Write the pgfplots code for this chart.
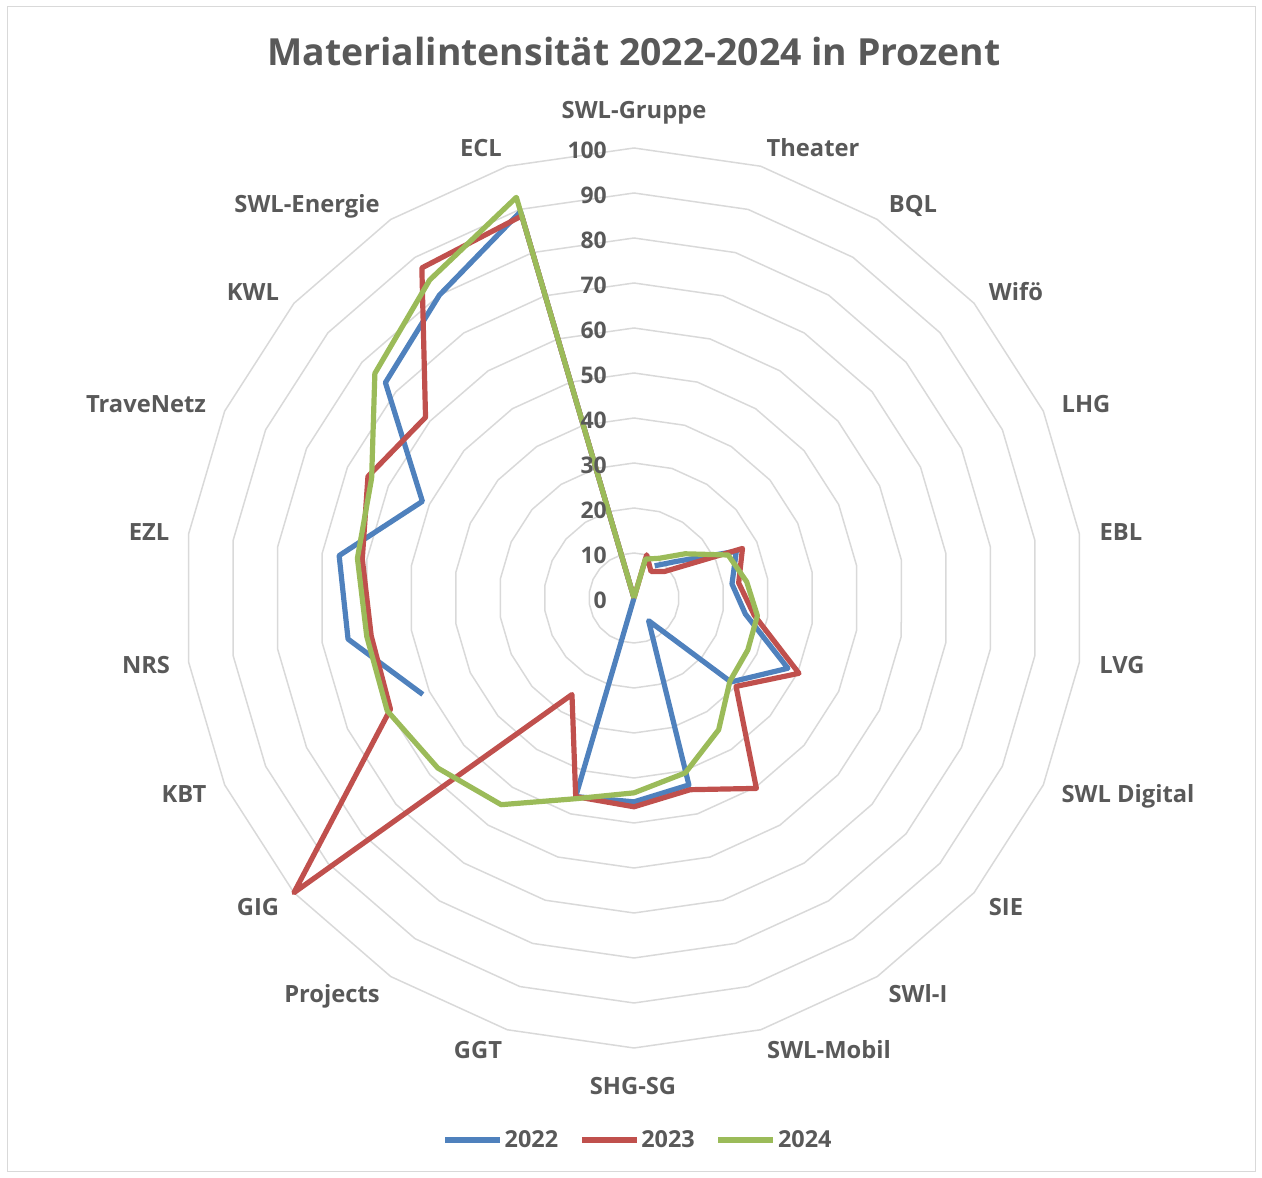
\documentclass[border=0pt]{standalone}
\usepackage{pgfplots}
\pgfplotsset{compat=1.18}
\usepackage{pgfplotstable}
\usepackage{fontspec}
\setmainfont{Open Sans}
\definecolor{c22}{HTML}{4F81BD}
\definecolor{c23}{HTML}{C0504D}
\definecolor{c24}{HTML}{9BBB59}
\definecolor{txt}{HTML}{595959}
\definecolor{gridc}{HTML}{D9D9D9}
\tikzset{
  radar/.style={line width=5.2bp, line join=round},
  lab/.style={font=\fontsize{23.8}{28}\selectfont\bfseries, text=txt, anchor=base, yshift=-8.4bp, inner sep=0pt},
  num/.style={font=\fontsize{23}{27}\selectfont\bfseries, text=txt, anchor=base east, yshift=-8.2bp, inner sep=0pt},
}

% i = category index (0 = SWL-Gruppe, clockwise), v = percent
\pgfplotstableread{
i v
0 0
1 10
2 7
3 9
4 26.5
5 23.5
6 27
7 40.3
8 30
9 50.3
10 44.4
11 46.4
12 46
13 25.5
14 100
15 59.5
16 59
17 61
18 65
19 61.3
20 87.2
21 88.5
22 0
}\redtab

\pgfplotstableread{
i v
0 0
1 9
2 10.5
3 15
4 23
5 25.3
6 27.7
7 27.8
8 28.2
9 34.8
10 40.5
11 43.3
12 46.5
13 54.6
14 57.7
15 60.3
16 60
17 62.1
18 64.1
19 76.2
20 84
21 92.8
22 0
}\greentab

\pgfplotstableread{
i v
2 8.5
3 12.4
4 25
5 22
6 25
7 37.6
8 28.5
9 6
10 43.3
11 45.3
12 46
13 0
}\blueAtab

\pgfplotstableread{
i v
15 51.6
16 64.2
17 66.2
18 51.7
19 73.1
20 80
21 89.5
22 0
}\blueBtab

\pgfplotstableread{
i v
0 10
1 10
2 10
3 10
4 10
5 10
6 10
7 10
8 10
9 10
10 10
11 10
12 10
13 10
14 10
15 10
16 10
17 10
18 10
19 10
20 10
21 10
22 10
}\ringtab

\begin{document}
\begin{tikzpicture}
\begin{axis}[
  width=1262bp, height=1178bp, scale only axis,
  xmin=-634, xmax=628, ymin=-580, ymax=598,
  hide axis, clip=false,
  legend style={at={(axis cs:4,-542)}, anchor=center, draw=none, fill=none,
    legend columns=3, font=\fontsize{23.5}{28}\selectfont\bfseries,
    text=txt,
    /tikz/every even column/.append style={column sep=19bp}},
  legend image code/.code={\draw[#1] (0bp,0bp) -- (55bp,0bp);},
]
% chart border
\draw[gridc, line width=1bp] (axis cs:-627,-574) rectangle (axis cs:621,591);
% grid rings (10 ... 100)
\addplot[gridc, line width=1.5bp, no markers, forget plot] table[x expr={4.5*1*\thisrow{v}*cos(90-\thisrow{i}*360/22)}, y expr={4.5*1*\thisrow{v}*sin(90-\thisrow{i}*360/22)}] {\ringtab};
\addplot[gridc, line width=1.5bp, no markers, forget plot] table[x expr={4.5*2*\thisrow{v}*cos(90-\thisrow{i}*360/22)}, y expr={4.5*2*\thisrow{v}*sin(90-\thisrow{i}*360/22)}] {\ringtab};
\addplot[gridc, line width=1.5bp, no markers, forget plot] table[x expr={4.5*3*\thisrow{v}*cos(90-\thisrow{i}*360/22)}, y expr={4.5*3*\thisrow{v}*sin(90-\thisrow{i}*360/22)}] {\ringtab};
\addplot[gridc, line width=1.5bp, no markers, forget plot] table[x expr={4.5*4*\thisrow{v}*cos(90-\thisrow{i}*360/22)}, y expr={4.5*4*\thisrow{v}*sin(90-\thisrow{i}*360/22)}] {\ringtab};
\addplot[gridc, line width=1.5bp, no markers, forget plot] table[x expr={4.5*5*\thisrow{v}*cos(90-\thisrow{i}*360/22)}, y expr={4.5*5*\thisrow{v}*sin(90-\thisrow{i}*360/22)}] {\ringtab};
\addplot[gridc, line width=1.5bp, no markers, forget plot] table[x expr={4.5*6*\thisrow{v}*cos(90-\thisrow{i}*360/22)}, y expr={4.5*6*\thisrow{v}*sin(90-\thisrow{i}*360/22)}] {\ringtab};
\addplot[gridc, line width=1.5bp, no markers, forget plot] table[x expr={4.5*7*\thisrow{v}*cos(90-\thisrow{i}*360/22)}, y expr={4.5*7*\thisrow{v}*sin(90-\thisrow{i}*360/22)}] {\ringtab};
\addplot[gridc, line width=1.5bp, no markers, forget plot] table[x expr={4.5*8*\thisrow{v}*cos(90-\thisrow{i}*360/22)}, y expr={4.5*8*\thisrow{v}*sin(90-\thisrow{i}*360/22)}] {\ringtab};
\addplot[gridc, line width=1.5bp, no markers, forget plot] table[x expr={4.5*9*\thisrow{v}*cos(90-\thisrow{i}*360/22)}, y expr={4.5*9*\thisrow{v}*sin(90-\thisrow{i}*360/22)}] {\ringtab};
\addplot[gridc, line width=1.5bp, no markers, forget plot] table[x expr={4.5*10*\thisrow{v}*cos(90-\thisrow{i}*360/22)}, y expr={4.5*10*\thisrow{v}*sin(90-\thisrow{i}*360/22)}] {\ringtab};
% data
\addplot[radar, no markers, c22] table[x expr={4.5*\thisrow{v}*cos(90-\thisrow{i}*360/22)}, y expr={4.5*\thisrow{v}*sin(90-\thisrow{i}*360/22)}] {\blueAtab};
\addlegendentry{2022}
\addplot[radar, no markers, c22, forget plot] table[x expr={4.5*\thisrow{v}*cos(90-\thisrow{i}*360/22)}, y expr={4.5*\thisrow{v}*sin(90-\thisrow{i}*360/22)}] {\blueBtab};
\addplot[radar, no markers, c23] table[x expr={4.5*\thisrow{v}*cos(90-\thisrow{i}*360/22)}, y expr={4.5*\thisrow{v}*sin(90-\thisrow{i}*360/22)}] {\redtab};
\addlegendentry{2023}
\addplot[radar, no markers, c24] table[x expr={4.5*\thisrow{v}*cos(90-\thisrow{i}*360/22)}, y expr={4.5*\thisrow{v}*sin(90-\thisrow{i}*360/22)}] {\greentab};
\addlegendentry{2024}
% title
\node[font=\fontsize{37.5}{44}\selectfont\bfseries, text=txt, anchor=base, inner sep=0pt] at (axis cs:0,532) {Materialintensität 2022-2024 in Prozent};
% radial scale labels
\node[num] at (axis cs:-27,-2) {0};
\node[num] at (axis cs:-27,43) {10};
\node[num] at (axis cs:-27,88) {20};
\node[num] at (axis cs:-27,133) {30};
\node[num] at (axis cs:-27,178) {40};
\node[num] at (axis cs:-27,223) {50};
\node[num] at (axis cs:-27,268) {60};
\node[num] at (axis cs:-27,313) {70};
\node[num] at (axis cs:-27,358) {80};
\node[num] at (axis cs:-27,403) {90};
\node[num] at (axis cs:-27,448) {100};
% category labels
\node[lab] at (axis cs:0,488) {SWL-Gruppe};
\node[lab] at (axis cs:179,450) {Theater};
\node[lab] at (axis cs:279,394) {BQL};
\node[lab] at (axis cs:382,306) {Wifö};
\node[lab] at (axis cs:452,194) {LHG};
\node[lab] at (axis cs:487,66) {EBL};
\node[lab] at (axis cs:488,-67) {LVG};
\node[lab] at (axis cs:494,-196) {SWL Digital};
\node[lab] at (axis cs:372,-309) {SIE};
\node[lab] at (axis cs:284,-396) {SWl-I};
\node[lab] at (axis cs:195,-452) {SWL-Mobil};
\node[lab] at (axis cs:-1,-488) {SHG-SG};
\node[lab] at (axis cs:-156,-452) {GGT};
\node[lab] at (axis cs:-302,-396) {Projects};
\node[lab] at (axis cs:-376,-309) {GIG};
\node[lab] at (axis cs:-450,-196) {KBT};
\node[lab] at (axis cs:-488,-67) {NRS};
\node[lab] at (axis cs:-485,66) {EZL};
\node[lab] at (axis cs:-488,194) {TraveNetz};
\node[lab] at (axis cs:-381,306) {KWL};
\node[lab] at (axis cs:-327,394) {SWL-Energie};
\node[lab] at (axis cs:-153,450) {ECL};
\path (axis cs:-634,-580) rectangle (axis cs:628,598);
\end{axis}
\end{tikzpicture}
\end{document}
